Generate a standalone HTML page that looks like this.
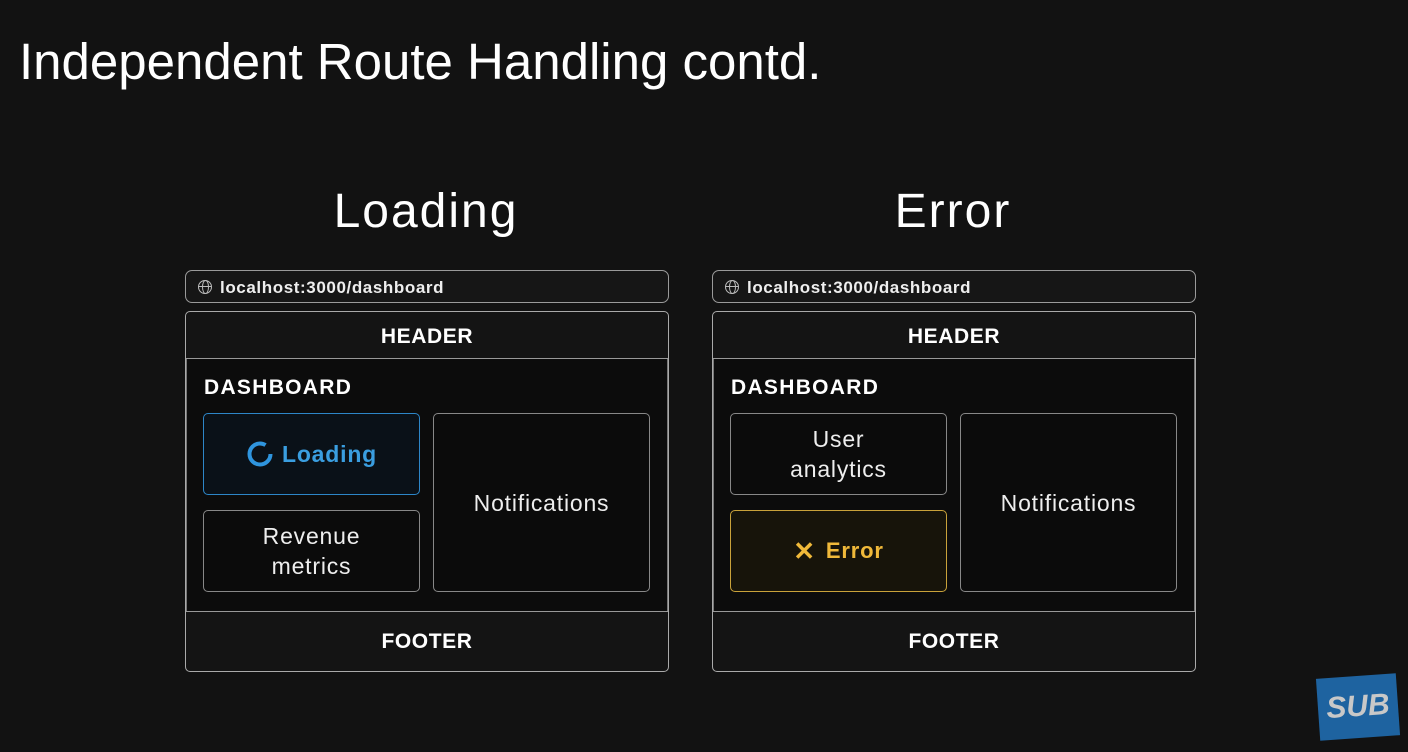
<!DOCTYPE html>
<html><head><meta charset="utf-8"><style>
*{margin:0;padding:0;box-sizing:border-box}
body{width:1408px;height:752px;background:#121212;position:relative;overflow:hidden;font-family:"Liberation Sans",sans-serif;color:#fff}
.a{position:absolute}
.title{left:19px;top:32px;font-size:51px;color:#fff;white-space:nowrap}
.hand{font-size:48px;color:#fff;font-family:"Liberation Sans",sans-serif;font-weight:normal;letter-spacing:2px;text-align:center;width:300px}
.url{height:33px;border:1.5px solid #9a9a9a;border-radius:7px;background:#161616;font-weight:bold;font-size:17px;padding:7px 0 0 34px;color:#eee;letter-spacing:0.6px}
.glob{position:absolute;left:12px;top:9px;width:14px;height:14px;border:1.5px solid #bbb;border-radius:50%}
.glob:before{content:"";position:absolute;left:3px;top:-1px;width:5px;height:12px;border:1.3px solid #bbb;border-radius:50%}
.glob:after{content:"";position:absolute;left:-1px;top:5px;width:13px;height:0;border-top:1.3px solid #bbb}
.main{height:361px;border:1.5px solid #aaa;border-radius:5px;background:#141414}
.hdr{position:absolute;left:0;right:0;top:0;height:47px;border-bottom:1.5px solid #999;text-align:center;font-weight:bold;font-size:21px;line-height:50px;letter-spacing:0.6px}
.dash{position:absolute;left:0;right:0;top:47px;height:252px;background:#0c0c0c;border-left:1px solid #777;border-right:1px solid #777}
.ftr{position:absolute;left:0;right:0;top:299px;bottom:0;border-top:1.5px solid #999;text-align:center;font-weight:bold;font-size:21px;line-height:60px;letter-spacing:0.6px}
.dl{position:absolute;left:17px;top:17px;font-weight:bold;font-size:21px;letter-spacing:1.3px}
.box{position:absolute;border:1.5px solid #888;border-radius:5px;background:#0b0b0b;display:flex;align-items:center;justify-content:center;text-align:center;font-size:23px;line-height:30px;color:#eee;letter-spacing:0.8px}
</style></head><body>
<div class="a title">Independent Route Handling contd.</div>
<div class="a hand" style="left:276px;top:184px">Loading</div>
<div class="a hand" style="left:803px;top:184px">Error</div>

<div class="a url" style="left:185px;top:270px;width:484px"><span class="glob"></span>localhost:3000/dashboard</div>
<div class="a main" style="left:185px;top:311px;width:484px">
 <div class="hdr">HEADER</div>
 <div class="dash"><div class="dl">DASHBOARD</div></div>
 <div class="ftr">FOOTER</div>
</div>
<div class="box" style="left:203px;top:413px;width:217px;height:82px;border-color:#2d86c8;background:#0a1118;color:#3a9ee0;font-weight:bold;font-size:23px"><svg width="28" height="28" style="margin-right:8px" viewBox="0 0 28 28"><circle cx="14" cy="14" r="10.5" fill="none" stroke="#2f95de" stroke-width="4" stroke-dasharray="55 12"/></svg>Loading</div>
<div class="box" style="left:203px;top:510px;width:217px;height:82px">Revenue<br>metrics</div>
<div class="box" style="left:433px;top:413px;width:217px;height:179px">Notifications</div>

<div class="a url" style="left:712px;top:270px;width:484px"><span class="glob"></span>localhost:3000/dashboard</div>
<div class="a main" style="left:712px;top:311px;width:484px">
 <div class="hdr">HEADER</div>
 <div class="dash"><div class="dl">DASHBOARD</div></div>
 <div class="ftr">FOOTER</div>
</div>
<div class="box" style="left:730px;top:413px;width:217px;height:82px">User<br>analytics</div>
<div class="box" style="left:730px;top:510px;width:217px;height:82px;border-color:#c9a23a;background:#17140a;color:#f0b93a;font-weight:bold;font-size:22px"><span style="margin-right:10px;font-size:26px">✕</span>Error</div>
<div class="box" style="left:960px;top:413px;width:217px;height:179px">Notifications</div>

<div class="a" style="left:1318px;top:676px;width:80px;height:62px;background:#1e63a0;transform:rotate(-4deg);color:#c8c8c8;font-weight:bold;font-style:italic;font-size:30px;text-align:center;line-height:62px">SUB</div>
</body></html>
